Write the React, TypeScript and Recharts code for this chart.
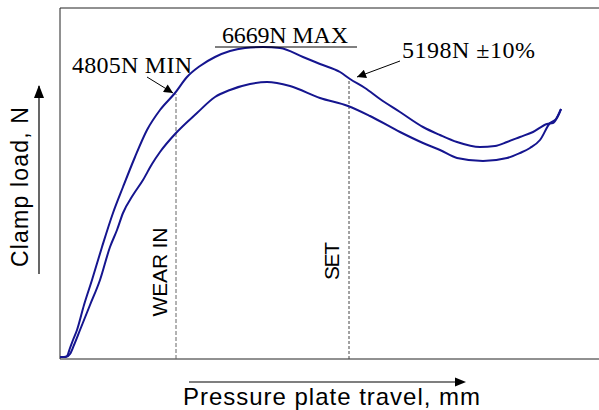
import React from 'react';
import { LineChart, Line, XAxis, YAxis, ReferenceLine } from 'recharts';

// Pressure plate travel (mm) vs clamp load (N)
const loadTravel = [0, 0.08, 0.14, 0.2, 0.26, 0.34, 0.48, 0.64, 0.84, 1.06, 1.26, 1.5, 1.74, 2.0, 2.3, 2.54, 2.8, 3.1, 3.4, 3.7, 4.06, 4.4, 4.86, 5.2, 5.6, 5.8, 6.1, 6.4, 6.8, 7.26, 7.6, 7.94, 8.4, 8.7, 8.94, 9.2, 9.46, 9.74, 9.86, 9.96, 10.02];
const loadValues = [40, 40, 60, 220, 380, 580, 1080, 1580, 2240, 2920, 3440, 4040, 4580, 4980, 5320, 5640, 5860, 6040, 6160, 6220, 6240, 6220, 6040, 5900, 5740, 5600, 5420, 5200, 4940, 4640, 4480, 4340, 4240, 4260, 4340, 4440, 4540, 4700, 4720, 4860, 5000];

const releaseTravel = [0, 0.12, 0.2, 0.28, 0.4, 0.6, 0.8, 1.0, 1.14, 1.26, 1.46, 1.66, 1.84, 2.0, 2.32, 2.74, 3.1, 3.4, 3.8, 4.14, 4.6, 5.2, 5.76, 6.2, 6.8, 7.26, 7.6, 7.94, 8.46, 8.94, 9.2, 9.4, 9.6, 9.8, 9.92, 10.02];
const releaseValues = [40, 40, 100, 280, 580, 1080, 1580, 2240, 2580, 2920, 3280, 3580, 3900, 4140, 4520, 4920, 5240, 5380, 5500, 5540, 5460, 5220, 5060, 4860, 4540, 4320, 4180, 4020, 3960, 4020, 4120, 4220, 4380, 4720, 4800, 5000];

const wearIn = { x: 2.32, y: 5300, label: 'WEAR IN' };
const setPoint = { x: 5.78, y: 5580, label: 'SET' };
const annotations = ['4805N MIN', '6669N MAX', '5198N \u00b110%'];
const xTitle = 'Pressure plate travel, mm';
const yTitle = 'Clamp load, N';

const X_DOMAIN: [number, number] = [0, 11.2];
const Y_DOMAIN: [number, number] = [0, 7020];

const loadData = loadTravel.map((x, i) => ({ x, y: loadValues[i] }));
const releaseData = releaseTravel.map((x, i) => ({ x, y: releaseValues[i] }));

const CURVE = '#15158f';
const serif = '"Liberation Serif", "Times New Roman", serif';
const sans = '"Liberation Sans", Arial, sans-serif';

export default function App() {
  return (
    <div style={{ position: 'fixed', left: 0, top: 0, width: 599, height: 410, overflow: 'hidden', background: '#fff' }}>
      <LineChart width={620} height={410} margin={{ top: 8, right: 0, bottom: 51, left: 60 }}>
        <XAxis type="number" dataKey="x" domain={X_DOMAIN} allowDataOverflow tick={false} tickLine={false} axisLine={false} height={0} />
        <YAxis type="number" dataKey="y" domain={Y_DOMAIN} allowDataOverflow tick={false} tickLine={false} axisLine={false} width={0} />
        <ReferenceLine y={Y_DOMAIN[1]} stroke="#222" strokeWidth={1} />
        <ReferenceLine y={Y_DOMAIN[0]} stroke="#222" strokeWidth={1} />
        <ReferenceLine x={X_DOMAIN[0]} stroke="#222" strokeWidth={1} />
        <ReferenceLine segment={[{ x: wearIn.x, y: 0 }, { x: wearIn.x, y: wearIn.y }]} stroke="#666" strokeDasharray="4 2" strokeWidth={1} />
        <ReferenceLine segment={[{ x: setPoint.x, y: 0 }, { x: setPoint.x, y: setPoint.y }]} stroke="#444" strokeDasharray="3 2" strokeWidth={1} />
        <Line data={loadData} dataKey="y" type="monotoneX" stroke={CURVE} strokeWidth={2} dot={false} isAnimationActive={false} />
        <Line data={releaseData} dataKey="y" type="monotoneX" stroke={CURVE} strokeWidth={2} dot={false} isAnimationActive={false} />
      </LineChart>
      <svg width={599} height={410} style={{ position: 'absolute', left: 0, top: 0, pointerEvents: 'none' }}>
        <defs>
          <marker id="ah" viewBox="0 0 10 10" refX="10" refY="5" markerWidth="12" markerHeight="9" markerUnits="userSpaceOnUse" orient="auto">
            <path d="M0,0 L10,5 L0,10 z" fill="#000" />
          </marker>
        </defs>
        <text x={72} y={73} fontFamily={serif} fontSize={24} fill="#000" textLength={120} lengthAdjust="spacing">{annotations[0]}</text>
        <line x1={147} y1={77} x2={173} y2={93} stroke="#000" strokeWidth={1} markerEnd="url(#ah)" />
        <text x={222} y={43} fontFamily={serif} fontSize={24} fill="#000" textLength={126} lengthAdjust="spacing">{annotations[1]}</text>
        <line x1={215} y1={47} x2={357} y2={47} stroke="#000" strokeWidth={1} />
        <text x={402} y={58} fontFamily={serif} fontSize={24} fill="#000" textLength={133} lengthAdjust="spacing">{annotations[2]}</text>
        <line x1={400} y1={61} x2={357} y2={77} stroke="#000" strokeWidth={1} markerEnd="url(#ah)" />

        <text transform="translate(28,187) rotate(-90)" textAnchor="middle" fontFamily={sans} fontSize={23} fill="#000" textLength={160} lengthAdjust="spacing">{yTitle}</text>
        <line x1={39} y1={274} x2={39} y2={86} stroke="#000" strokeWidth={1.2} />
        <path d="M39,85 L34,98 L44,98 z" fill="#000" />

        <text x={183} y={405} fontFamily={sans} fontSize={24} fill="#000" textLength={297} lengthAdjust="spacing">{xTitle}</text>
        <line x1={189} y1={382} x2={456} y2={382} stroke="#000" strokeWidth={1.2} />
        <path d="M466,382 L455,377.5 L455,386.5 z" fill="#000" />

        <text transform="translate(167,272) rotate(-90)" textAnchor="middle" fontFamily={sans} fontSize={21} fill="#000" textLength={89} lengthAdjust="spacing">{wearIn.label}</text>
        <text transform="translate(339,261) rotate(-90)" textAnchor="middle" fontFamily={sans} fontSize={21} fill="#000" textLength={38} lengthAdjust="spacing">{setPoint.label}</text>
      </svg>
    </div>
  );
}
